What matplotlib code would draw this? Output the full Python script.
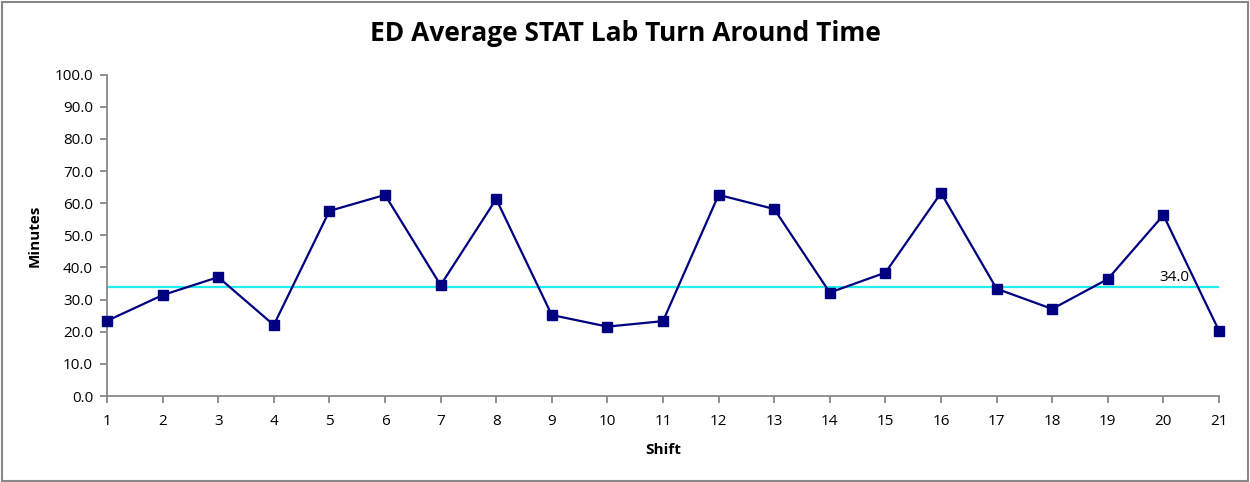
import matplotlib
matplotlib.use("Agg")
import matplotlib.pyplot as plt
from matplotlib.patches import Rectangle

shifts = list(range(1, 22))
minutes = [23.4, 31.4, 37.0, 22.1, 57.6, 62.6, 34.5, 61.3, 25.2, 21.6, 23.3,
           62.6, 58.2, 32.2, 38.4, 63.2, 33.4, 27.1, 36.4, 56.3, 20.3]
mean_value = 34.0
yticks = [0, 10, 20, 30, 40, 50, 60, 70, 80, 90, 100]

plt.rcParams['font.family'] = ['Open Sans', 'DejaVu Sans']

fig = plt.figure(figsize=(12.5, 4.82), dpi=100)
ax = fig.add_axes([0.0856, 0.1784, 0.8896, 0.6666])

ax.plot(shifts, minutes, color='#000080', linewidth=1.6, marker='s',
        markersize=7.5, zorder=3, clip_on=False)
ax.axhline(mean_value, color='#22EEF0', linewidth=1.6, zorder=2)
ax.text(20.2, mean_value + 0.6, f"{mean_value:.1f}", ha='center', va='bottom',
        fontsize=11, color='black', zorder=4)

ax.set_xlim(1, 21)
ax.set_ylim(0, 100)
ax.set_xticks(shifts)
ax.set_xticklabels([str(s) for s in shifts])
ax.set_yticks(yticks)
ax.set_yticklabels([f"{v:.1f}" for v in yticks])

for s in ['top', 'right']:
    ax.spines[s].set_visible(False)
for s in ['left', 'bottom']:
    ax.spines[s].set_color('#888888')
    ax.spines[s].set_linewidth(1.3)
ax.tick_params(axis='both', colors='#888888', labelcolor='black',
               labelsize=11, length=5, width=1.3)
ax.tick_params(axis='x', pad=8)
ax.tick_params(axis='y', pad=5)

ax.set_xlabel('Shift', fontsize=11, fontweight='bold', labelpad=10)
ax.set_ylabel('Minutes', fontsize=11, fontweight='bold', labelpad=9)

fig.text(0.5, 0.931, 'ED Average STAT Lab Turn Around Time', fontsize=19,
         fontweight='bold', ha='center', va='center')

fig.patches.append(Rectangle((0.0015, 0.002), 0.997, 0.994, transform=fig.transFigure,
                             fill=False, edgecolor='#888888', linewidth=1.5))

fig.savefig('out.png', dpi=100)
